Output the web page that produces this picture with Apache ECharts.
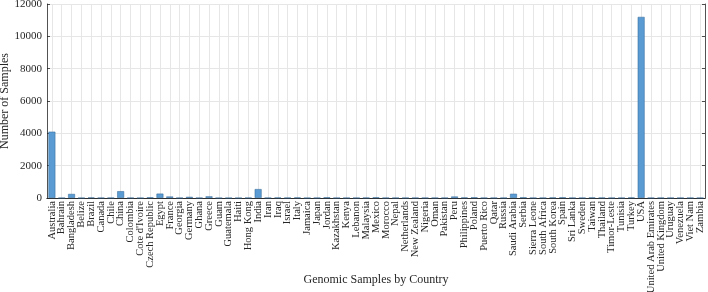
<!DOCTYPE html>
<html>
<head>
<meta charset="utf-8">
<script src="https://cdn.jsdelivr.net/npm/echarts@6/dist/echarts.min.js"></script>
<style>
  html, body { margin: 0; padding: 0; background: #fff; }
  #chart { width: 708px; height: 292px; }
</style>
</head>
<body>
<div id="chart"></div>
<script>
// countries, in the order of the x axis
const countries = [
  'Australia', 'Bahrain', 'Bangladesh', 'Belize', 'Brazil', 'Canada', 'Chile', 'China',
  'Colombia', "Cote d'Ivoire", 'Czech Republic', 'Egypt', 'France', 'Georgia', 'Germany',
  'Ghana', 'Greece', 'Guam', 'Guatemala', 'Haiti', 'Hong Kong', 'India', 'Iran', 'Iraq',
  'Israel', 'Italy', 'Jamaica', 'Japan', 'Jordan', 'Kazakhstan', 'Kenya', 'Lebanon',
  'Malaysia', 'Mexico', 'Morocco', 'Nepal', 'Netherlands', 'New Zealand', 'Nigeria', 'Oman',
  'Pakistan', 'Peru', 'Philippines', 'Poland', 'Puerto Rico', 'Qatar', 'Russia',
  'Saudi Arabia', 'Serbia', 'Sierra Leone', 'South Africa', 'South Korea', 'Spain',
  'Sri Lanka', 'Sweden', 'Taiwan', 'Thailand', 'Timor-Leste', 'Tunisia', 'Turkey', 'USA',
  'United Arab Emirates', 'United Kingdom', 'Uruguay', 'Venezuela', 'Viet Nam', 'Zambia'
];

// samples per country
const samples = [
  4100, 5, 250, 5, 30, 10, 10, 420,
  10, 5, 40, 270, 90, 10, 70,
  10, 100, 5, 5, 5, 15, 550, 10, 25,
  15, 30, 5, 10, 40, 10, 10, 10,
  20, 40, 10, 10, 10, 10, 10, 10,
  10, 90, 30, 40, 10, 10, 10,
  260, 40, 10, 10, 30, 40,
  15, 10, 30, 20, 10, 10, 30, 11200,
  10, 15, 10, 10, 10, 10
];

// y axis ticks
const yTicks = [0, 2000, 4000, 6000, 8000, 10000, 12000];

const font = '"Liberation Serif", "Times New Roman", serif';
const ink = '#262626';
const gridColor = '#e6e6e6';

const chart = echarts.init(document.getElementById('chart'));

chart.setOption({
  animation: false,
  textStyle: { fontFamily: font },
  grid: { left: 47, right: 3, top: 4, bottom: 94, containLabel: false, outerBoundsMode: 'none' },
  xAxis: [
    {
      type: 'category',
      data: countries,
      name: 'Genomic Samples by Country',
      nameLocation: 'middle',
      nameGap: 76,
      nameMoveOverlap: false,
      nameTextStyle: { fontFamily: font, fontSize: 12, color: ink },
      axisLine: { lineStyle: { color: ink, width: 0.8 } },
      axisTick: { inside: true, length: 3, alignWithLabel: true, lineStyle: { color: ink, width: 0.8 } },
      axisLabel: { rotate: 90, interval: 0, margin: 3, fontFamily: font, fontSize: 10.5, color: ink },
      splitLine: { show: true, alignWithLabel: true, lineStyle: { color: gridColor, width: 1 } }
    },
    {
      type: 'category',
      data: countries,
      position: 'top',
      axisLine: { lineStyle: { color: ink, width: 0.8 } },
      axisTick: { inside: true, length: 3, alignWithLabel: true, lineStyle: { color: ink, width: 0.8 } },
      axisLabel: { show: false },
      splitLine: { show: false }
    }
  ],
  yAxis: [
    {
      type: 'value',
      min: yTicks[0],
      max: yTicks[yTicks.length - 1],
      interval: 2000,
      name: 'Number of Samples',
      nameLocation: 'middle',
      nameGap: 36,
      nameMoveOverlap: false,
      nameTextStyle: { fontFamily: font, fontSize: 12, color: ink },
      axisLine: { show: true, lineStyle: { color: ink, width: 0.8 } },
      axisTick: { show: true, inside: true, length: 3, lineStyle: { color: ink, width: 0.8 } },
      axisLabel: { fontFamily: font, fontSize: 11, color: ink, margin: 5, formatter: v => String(v) },
      splitLine: { show: true, lineStyle: { color: gridColor, width: 1 } }
    },
    {
      type: 'value',
      position: 'right',
      min: yTicks[0],
      max: yTicks[yTicks.length - 1],
      interval: 2000,
      axisLine: { show: true, lineStyle: { color: ink, width: 0.8 } },
      axisTick: { show: true, inside: true, length: 3, lineStyle: { color: ink, width: 0.8 } },
      axisLabel: { show: false },
      splitLine: { show: false }
    }
  ],
  series: [{
    type: 'bar',
    data: samples,
    barWidth: '70%',
    itemStyle: { color: '#5a9bd3', borderColor: '#2e6593', borderWidth: 0.5 }
  }]
});
</script>
</body>
</html>
